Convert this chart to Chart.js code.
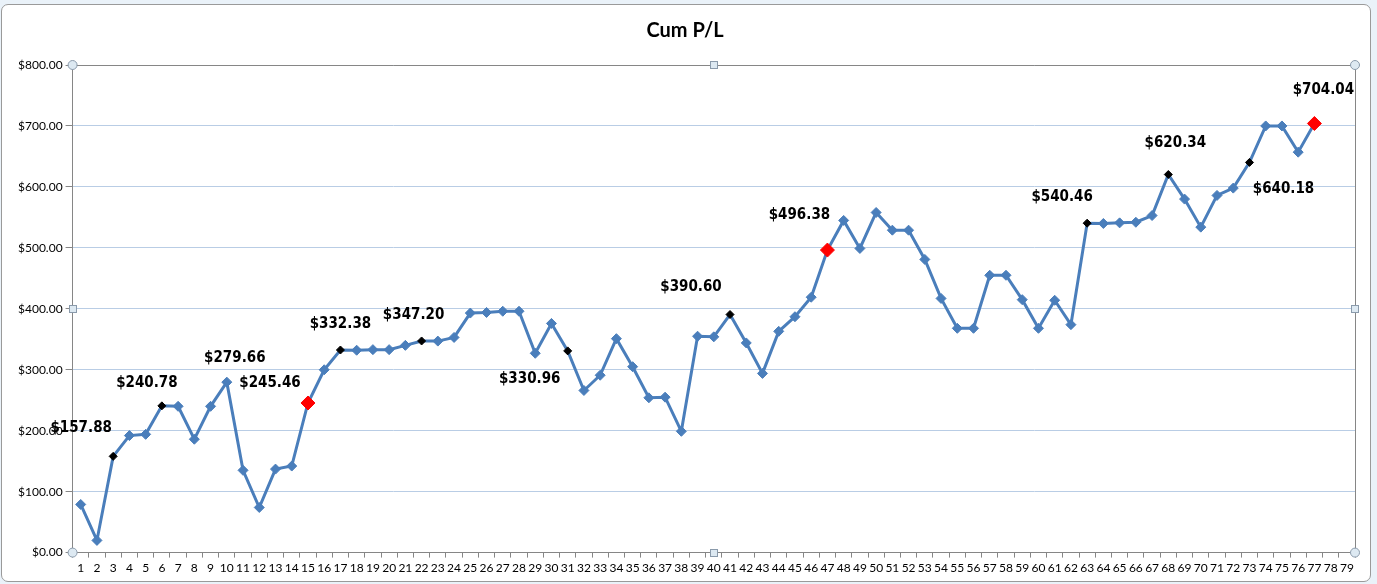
<!DOCTYPE html>
<html>
<head>
<meta charset="utf-8">
<script src="https://cdn.jsdelivr.net/npm/chart.js@4/dist/chart.umd.min.js"></script>
<style>
  html, body { margin: 0; padding: 0; background: #eaf2f9; }
  #wrap { position: relative; width: 1377px; height: 584px; overflow: hidden; }
  #frame {
    position: absolute; left: 1px; top: 4px; width: 1368px; height: 576px;
    background: #fff; border: 1px solid #9a9a9a; border-radius: 7px;
  }
  #cumChart { position: absolute; left: 0; top: 0; }
</style>
</head>
<body>
<div id="wrap">
  <div id="frame"></div>
  <canvas id="cumChart" width="1377" height="584"></canvas>
</div>
<script>
// x categories 1..79 (only 77 trades have a value)
const categories = Array.from({ length: 79 }, (_, i) => String(i + 1));

// cumulative P/L per trade
const cumPL = [
  79, 20, 157.88, 192, 194, 240.78, 240, 186, 240, 279.66,
  135, 74, 137, 142, 245.46, 300, 332.38, 332, 333, 333,
  340, 347.20, 347, 353, 393, 394, 396, 396, 327, 376,
  330.96, 266, 291, 351, 305, 254, 255, 199, 355, 354,
  390.60, 344, 294, 363, 387, 419, 496.38, 545, 499, 558,
  529, 529, 481, 417, 368, 368, 455, 455, 415, 368,
  414, 374, 540.46, 540, 541, 542, 553, 620.34, 580, 534,
  586, 598, 640.18, 700, 700, 657, 704.04
];

// trade numbers that carry a value label, and how each marker is flagged
const labelledTrades = [3, 6, 10, 15, 17, 22, 31, 41, 47, 63, 68, 73, 77];
const blackTrades = [3, 6, 17, 22, 31, 41, 63, 68, 73];
const redTrades = [15, 47, 77];

// y axis ticks
const yMin = 0, yMax = 800, yStep = 100;

// where each label sits relative to its point (px)
const labelOffsets = {
  3: [-32, -28], 6: [-15, -23], 10: [8, -24], 15: [-38, -20], 17: [0, -26],
  22: [-8, -26], 31: [-38, 28], 41: [-39, -27], 47: [-28, -35], 63: [-25, -26],
  68: [7, -31], 73: [34, 27], 77: [9, -33]
};

const blue = "#4a7ebb";
const pointColors = cumPL.map((v, i) =>
  redTrades.includes(i + 1) ? "#ff0000" : blackTrades.includes(i + 1) ? "#000" : blue);
const pointSizes = cumPL.map((v, i) =>
  redTrades.includes(i + 1) ? 7 : blackTrades.includes(i + 1) ? 4 : 5);

const money = v => "$" + Number(v).toFixed(2);

// plot area outline + Excel-like selection handles
const plotFrame = {
  id: "plotFrame",
  afterDraw(chart) {
    const { ctx, chartArea: a } = chart;
    ctx.save();
    ctx.strokeStyle = "#868686";
    ctx.lineWidth = 1;
    ctx.beginPath();
    ctx.moveTo(a.left, a.top + 0.5);
    ctx.lineTo(a.right + 0.5, a.top + 0.5);
    ctx.lineTo(a.right + 0.5, a.bottom);
    ctx.stroke();

    ctx.fillStyle = "#dde9f2";
    ctx.strokeStyle = "#8a9aab";
    [[a.left, a.top], [a.right, a.top], [a.left, a.bottom], [a.right, a.bottom]].forEach(([x, y]) => {
      ctx.beginPath();
      ctx.arc(x, y, 4.5, 0, Math.PI * 2);
      ctx.fill();
      ctx.stroke();
    });
    const mx = (a.left + a.right) / 2, my = (a.top + a.bottom) / 2;
    [[mx, a.top], [mx, a.bottom], [a.left, my], [a.right, my]].forEach(([x, y]) => {
      ctx.fillRect(Math.round(x) - 3.5, Math.round(y) - 3.5, 7, 7);
      ctx.strokeRect(Math.round(x) - 3.5, Math.round(y) - 3.5, 7, 7);
    });
    ctx.restore();
  }
};

// value labels next to flagged points
const valueLabels = {
  id: "valueLabels",
  afterDatasetsDraw(chart) {
    const { ctx } = chart;
    const meta = chart.getDatasetMeta(0);
    ctx.save();
    ctx.font = "bold 15px 'Liberation Sans Narrow', 'DejaVu Sans Condensed', sans-serif";
    ctx.fillStyle = "#000";
    ctx.textAlign = "center";
    ctx.textBaseline = "middle";
    labelledTrades.forEach(t => {
      const pt = meta.data[t - 1];
      const [dx, dy] = labelOffsets[t];
      ctx.fillText(money(cumPL[t - 1]), pt.x + dx, pt.y + dy);
    });
    ctx.restore();
  }
};

new Chart(document.getElementById("cumChart").getContext("2d"), {
  type: "line",
  data: {
    labels: categories,
    datasets: [{
      label: "Cum P/L",
      data: cumPL,
      borderColor: blue,
      borderWidth: 3,
      pointStyle: "rectRot",
      pointRadius: pointSizes,
      pointBackgroundColor: pointColors,
      pointBorderColor: pointColors,
      pointBorderWidth: 1,
      tension: 0
    }]
  },
  options: {
    responsive: false,
    animation: false,
    layout: { padding: { top: 0, left: 15, right: 22, bottom: 6 } },
    plugins: {
      legend: { display: false },
      tooltip: { enabled: false },
      title: {
        display: true,
        text: "Cum P/L",
        color: "#000",
        font: { family: "Lato", size: 20, weight: "bold" },
        padding: { top: 19, bottom: 22 }
      }
    },
    scales: {
      x: {
        offset: true,
        grid: { offset: true, drawOnChartArea: false, tickLength: 5, color: "#868686" },
        border: { color: "#868686" },
        ticks: {
          autoSkip: false, maxRotation: 0, padding: 3,
          color: "#000", font: { family: "Lato", size: 12 }
        }
      },
      y: {
        min: yMin, max: yMax,
        grid: { color: "#b9cde5", tickColor: "#868686", tickLength: 7 },
        border: { color: "#868686" },
        ticks: {
          stepSize: yStep, padding: 3,
          color: "#000", font: { family: "Lato", size: 12 },
          callback: v => money(v)
        }
      }
    }
  },
  plugins: [plotFrame, valueLabels]
});
</script>
</body>
</html>
